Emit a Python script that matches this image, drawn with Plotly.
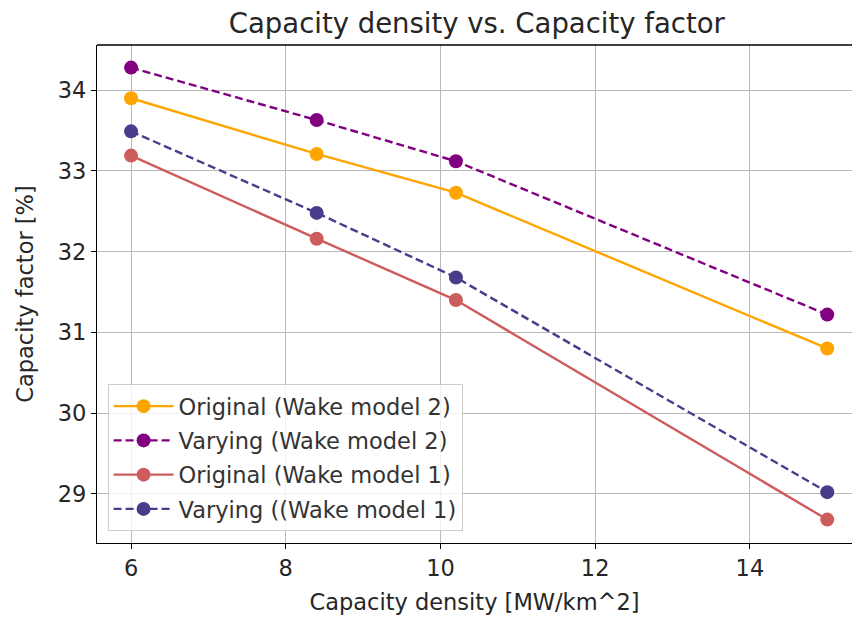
import plotly.graph_objects as go

x_density = [6, 8.4, 10.2, 15]
orig_wm2 = [33.90, 33.21, 32.73, 30.80]
vary_wm2 = [34.28, 33.63, 33.12, 31.22]
orig_wm1 = [33.19, 32.16, 31.40, 28.68]
vary_wm1 = [33.49, 32.48, 31.68, 29.02]

series = [
    ("Original (Wake model 2)", orig_wm2, "orange", "solid"),
    ("Varying (Wake model 2)", vary_wm2, "purple", "8px,4px"),
    ("Original (Wake model 1)", orig_wm1, "indianred", "solid"),
    ("Varying ((Wake model 1)", vary_wm1, "darkslateblue", "8px,4px"),
]

FONT = "DejaVu Sans"
FS = 22.5
fig = go.Figure()
for i, (name, ys, col, dash) in enumerate(series):
    fig.add_trace(go.Scatter(
        x=x_density, y=ys, name=name, mode="lines+markers",
        line=dict(color=col, width=2.4, dash=dash),
        marker=dict(color=col, size=14),
        legendgroup=f"g{i}",
    ))

fig.update_layout(
    width=853, height=619,
    margin=dict(l=97, r=1, t=45, b=76),
    paper_bgcolor="white", plot_bgcolor="white",
    font=dict(family=FONT, size=FS, color="#262626"),
    title=dict(text="Capacity density vs. Capacity factor", x=0.559, xanchor="center",
               y=0.962, yanchor="middle", font=dict(size=27.5, color="#262626")),
    showlegend=True,
    legend=dict(x=0.014, y=0.024, xanchor="left", yanchor="bottom",
                bgcolor="rgba(255,255,255,0.8)", bordercolor="#cccccc", borderwidth=1,
                font=dict(size=FS, color="#333333"), traceorder="grouped",
                tracegroupgap=2, itemwidth=60),
    xaxis=dict(range=[5.56, 15.32], tickvals=[6, 8, 10, 12, 14], ticktext=["6", "8", "10", "12", "14"],
               showgrid=True, gridcolor="#b8b8b8", gridwidth=1,
               showline=True, linecolor="black", linewidth=1.3, mirror=False,
               ticks="outside", ticklen=5, tickcolor="black", zeroline=False,
               tickfont=dict(size=FS),
               title=dict(text="Capacity density [MW/km^2]", standoff=14, font=dict(size=FS))),
    yaxis=dict(range=[28.39, 34.56], tickvals=[29, 30, 31, 32, 33, 34],
               showgrid=True, gridcolor="#b8b8b8", gridwidth=1,
               showline=True, linecolor="black", linewidth=1.3,
               ticks="outside", ticklen=5, tickcolor="black", zeroline=False,
               tickfont=dict(size=FS),
               title=dict(text="Capacity factor [%]", standoff=17, font=dict(size=FS))),
)
fig.add_shape(type="line", xref="paper", yref="paper", x0=0, x1=1, y0=1, y1=1,
              line=dict(color="black", width=1.3))

fig.write_html("out.html")
